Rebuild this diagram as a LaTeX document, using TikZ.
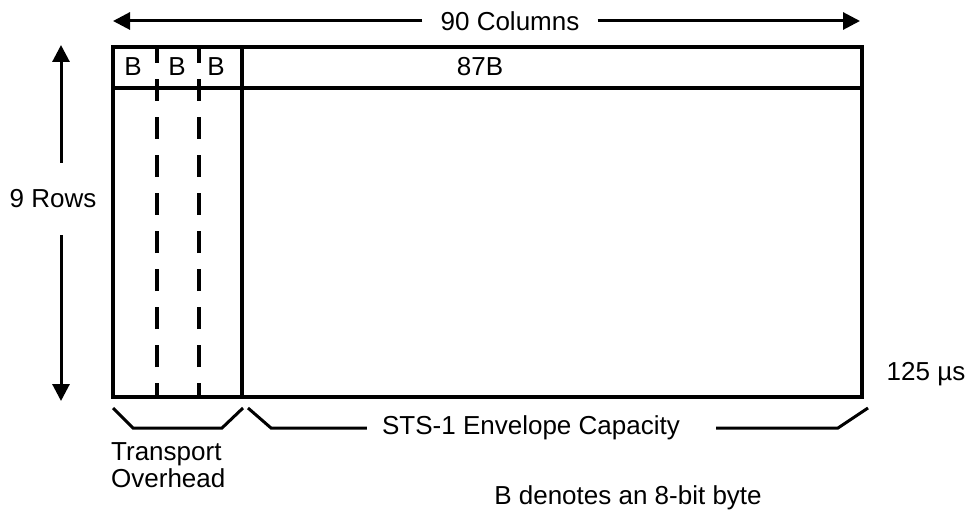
\documentclass[tikz,border=0pt]{standalone}
\usepackage{fontspec}
\setmainfont{Liberation Sans}
\usetikzlibrary{arrows.meta}

\tikzstyle{label}=[inner sep=0pt, font=\fontsize{26}{27}\selectfont]
\tikzstyle{arrow}=[line width=3pt, -{Triangle[length=17pt, width=17pt]}]
\tikzstyle{frameline}=[line width=3.5pt]
\tikzstyle{byteline}=[line width=3.3pt, dash pattern=on 22pt off 16pt, dash phase=8pt]
\tikzstyle{brace}=[line width=3pt]

\begin{document}
\begin{tikzpicture}[x=1pt, y=-1pt]
      \useasboundingbox (0,0) rectangle (970,516);

      % frame of the STS-1 frame
      \coordinate (tl) at (113,47);
      \coordinate (br) at (862,397);
      \draw[frameline] (tl) rectangle (br);
      \draw[frameline] (113,88) -- (862,88);
      \draw[frameline] (242,47) -- (242,397);
      \draw[byteline] (157,397) -- (157,47);
      \draw[byteline] (199,397) -- (199,47);

      \node[label] (b1) at (133,67) {B};
      \node[label] (b2) at (177,67) {B};
      \node[label] (b3) at (216,67) {B};
      \node[label] (spe) at (480,67) {87B};

      % column and row counts
      \node[label, inner xsep=18pt] (cols) at (510,21) {90 Columns};
      \coordinate (colsL) at (113,21);
      \coordinate (colsR) at (860,21);
      \draw[arrow] (cols) -- (colsL);
      \draw[arrow] (cols) -- (colsR);

      \node[label, inner ysep=27pt] (rows) at (53,199) {9 Rows};
      \coordinate (rowsT) at (61,45);
      \coordinate (rowsB) at (61,401);
      \draw[arrow] (rows.north -| rowsT) -- (rowsT);
      \draw[arrow] (rows.south -| rowsB) -- (rowsB);

      \node[label] (time) at (926,374) {125 µs};

      % braces under the frame
      \draw[brace] (113,408) -- (133,428) -- (222,428) -- (243,408);
      \node[label, anchor=north west, align=left] (toh) at (111,442) {Transport\\Overhead};

      \node[label, inner xsep=15pt] (env) at (531,428) {STS-1 Envelope Capacity};
      \draw[brace] (248,408) -- (271,428) -- (env.west);
      \draw[brace] ([xshift=21pt]env.east) -- (838,428) -- (868,408);

      \node[label] (note) at (628,498) {B denotes an 8-bit byte};
    \end{tikzpicture}
\end{document}
